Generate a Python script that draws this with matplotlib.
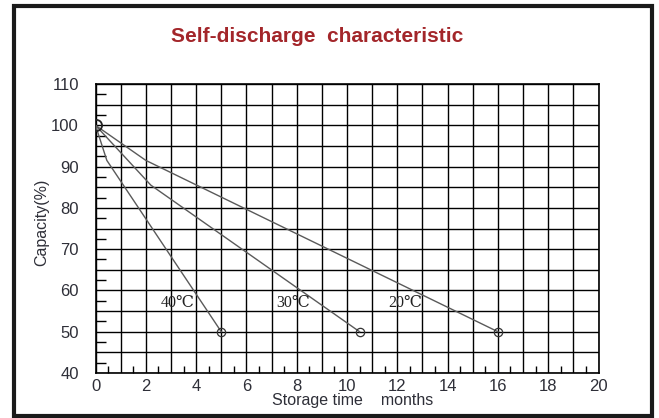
import matplotlib
matplotlib.use('Agg')
import matplotlib.pyplot as plt
from matplotlib.patches import Rectangle
from matplotlib.ticker import MultipleLocator, FuncFormatter

# Self-discharge curves (months, capacity %)
months40 = [0, 0.45, 5.0]
cap40 = [100, 91.5, 50]
months30 = [0, 2.2, 10.5]
cap30 = [100, 85.5, 50]
months20 = [0, 2.0, 16.0]
cap20 = [100, 91.5, 50]

labels = ['40℃', '30℃', '20℃']
labelX = [3.25, 7.85, 12.3]
labelY = [57, 57, 57]

plt.rcParams['font.family'] = ['Liberation Sans', 'DejaVu Sans']
txtColor = '#2e2f38'
lineColor = '#5a5a5a'

fig = plt.figure(figsize=(6.59, 4.18), dpi=100)
ax = fig.add_axes([95.5/659, 1-373/418, 503/659, 289/418])

for mx, cy in [(months40, cap40), (months30, cap30), (months20, cap20)]:
    ax.plot(mx, cy, color=lineColor, lw=1.0, zorder=3)
    ax.plot(mx[-1], cy[-1], 'o', ms=6, mfc='none', mec='#333333', mew=0.9, zorder=4)
ax.plot(months20[0], cap20[0], 'o', ms=8, mfc='none', mec='#222222', mew=1.3, zorder=4)

for t, lx, ly in zip(labels, labelX, labelY):
    ax.text(lx, ly, t, ha='center', va='center', fontsize=11.5, color='#222222',
            family=['Liberation Serif', 'DejaVu Serif', 'DejaVu Sans'], zorder=5)

ax.set_xlim(0, 20)
ax.set_ylim(40, 110)
ax.xaxis.set_major_locator(MultipleLocator(1))
ax.xaxis.set_minor_locator(MultipleLocator(0.5))
ax.yaxis.set_major_locator(MultipleLocator(5))
ax.yaxis.set_minor_locator(MultipleLocator(2.5))
ax.xaxis.set_major_formatter(FuncFormatter(lambda v, p: '%d' % v if round(v) % 2 == 0 else ''))
ax.yaxis.set_major_formatter(FuncFormatter(lambda v, p: '%d' % v if round(v) % 10 == 0 else ''))
ax.grid(True, which='major', color='black', lw=1.0)
ax.set_axisbelow(True)
ax.tick_params(which='major', length=0, labelsize=12, labelcolor=txtColor)
ax.tick_params(axis='x', which='major', pad=4)
ax.tick_params(axis='y', which='major', pad=12)
ax.tick_params(axis='x', which='minor', direction='in', length=5, width=1, color='black')
ax.tick_params(axis='y', which='minor', direction='in', length=7, width=1, color='black')
for s in ax.spines.values():
    s.set_linewidth(1.2)
    s.set_color('black')

fig.text(317/659, 1-37/418, 'Self-discharge  characteristic', ha='center', va='center',
         fontsize=15, fontweight='bold', color='#a3262a')
fig.text(353/659, 1-401/418, 'Storage time    months', ha='center', va='center',
         fontsize=11.5, color=txtColor)
fig.text(42/659, 1-222/418, 'Capacity(%)', ha='center', va='center', rotation=90,
         fontsize=11.5, color=txtColor)

fig.patches.append(Rectangle((14/659, 2/418), 637.5/659, 410.5/418, transform=fig.transFigure,
                             fill=False, ec='#1a1a1a', lw=3, clip_on=False))

fig.savefig('out.png', dpi=100)
